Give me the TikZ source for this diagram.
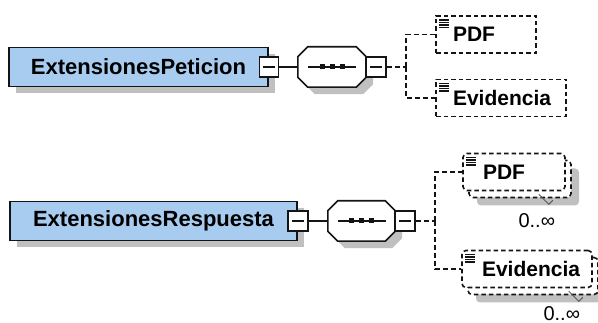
\documentclass[tikz,border=0pt]{standalone}
\usepackage{fontspec}
\setmainfont{Liberation Sans}
\usetikzlibrary{shadows,calc}
\definecolor{elblue}{RGB}{168,204,240}
\definecolor{shgray}{RGB}{192,192,192}
\definecolor{ink}{RGB}{20,20,20}
\newcommand\octpath[1]{($(#1.north west)+(10,0)$) -- ($(#1.north east)+(-10,0)$) -- ($(#1.north east)+(0,10)$) -- ($(#1.south east)+(0,-10)$) -- ($(#1.south east)+(-10,0)$) -- ($(#1.south west)+(10,0)$) -- ($(#1.south west)+(0,-10)$) -- ($(#1.north west)+(0,10)$) -- cycle}
\begin{document}
\begin{tikzpicture}[x=1pt,y=-1pt,
  sh/.style={drop shadow={shadow xshift=#1, shadow yshift=-#1, opacity=1, fill=shgray}},
  mainel/.style={draw=ink, line width=1.7pt, fill=elblue, sh=7pt, minimum height=39pt, inner sep=0pt, font=\fontsize{22}{26}\selectfont\bfseries},
  minusbox/.style={draw=ink, line width=1.6pt, fill=white, minimum width=19pt, minimum height=20pt, inner sep=0pt,
    path picture={\draw[ink, solid, line width=1.6pt] ([xshift=-6pt]path picture bounding box.center) -- ([xshift=6pt]path picture bounding box.center);}},
  seqbox/.style={minimum width=68pt, minimum height=40pt, inner sep=0pt},
  octo/.style={draw=ink, line width=1.6pt, fill=white, sh=7pt},
  child/.style={draw=ink, line width=1.6pt, dash pattern=on 4.5pt off 3pt, fill=white, minimum height=37pt, inner xsep=17pt, inner ysep=0pt, align=left, font=\fontsize{21}{25}\selectfont\bfseries,
    path picture={\foreach \k in {4,6.5,9,11.5} \draw[ink, solid, line width=1.1pt] ($(path picture bounding box.north west)+(3,\k)$) -- ++(10,0);}},
  multi/.style={child, rounded corners=4pt, inner xsep=20pt},
  backbox/.style={draw=ink, line width=1.6pt, dash pattern=on 4.5pt off 3pt, fill=white, rounded corners=4pt, minimum height=37pt, inner sep=0pt, sh=8pt},
  conn/.style={draw=ink, line width=1.6pt},
  dconn/.style={draw=ink, line width=1.6pt, dash pattern=on 5pt off 3pt},
  tick/.style={draw=ink!70, line width=1pt},
  mult/.style={inner sep=0pt, font=\fontsize{20}{24}\selectfont}
]
\useasboundingbox (0,0) rectangle (598,323);

% ---------- top: ExtensionesPeticion ----------
\node[mainel, minimum width=259pt] (main1) at (138.5,67) {ExtensionesPeticion};
\node[minusbox] (m1) at (main1.east) {};
\node[seqbox] (seq1) at (332,67) {};
\draw[conn] (m1.east) -- (seq1.west);
\draw[octo] \octpath{seq1};
\draw[conn] ($(seq1.center)+(-24,0)$) -- ($(seq1.center)+(24,0)$);
\foreach \d in {-10,0,10} \fill[ink] ($(seq1.center)+(\d-2.5,-2.5)$) rectangle ++(5,5);
\node[minusbox, minimum width=20pt] (ms1) at ($(seq1.east)+(10,0)$) {};
\coordinate (b1) at (406,67);
\node[child, text width=66pt] (pdf1) at (486,34.5) {PDF};
\node[child, text width=96pt] (evid1) at (501,98) {Evidencia};
\draw[dconn] (ms1.east) -- (b1);
\draw[dconn] (b1) |- (pdf1.west);
\draw[dconn] (b1) |- (evid1.west);

% ---------- bottom: ExtensionesRespuesta ----------
\node[mainel, minimum width=287pt] (main2) at (153.5,221) {ExtensionesRespuesta};
\node[minusbox, minimum width=20pt] (m2) at (main2.east) {};
\node[seqbox, minimum width=67pt] (seq2) at (361.5,221) {};
\draw[conn] (m2.east) -- (seq2.west);
\draw[octo] \octpath{seq2};
\draw[conn] ($(seq2.center)+(-24,0)$) -- ($(seq2.center)+(24,0)$);
\foreach \d in {-10,0,10} \fill[ink] ($(seq2.center)+(\d-2.5,-2.5)$) rectangle ++(5,5);
\node[minusbox, minimum width=20pt] (ms2) at ($(seq2.east)+(10,0)$) {};
\coordinate (b2) at (435,221);

\node[backbox, minimum width=102pt] (pdf2back) at (520,179) {};
\node[multi, text width=62pt] (pdf2) at (514,172) {PDF};
\node[backbox, minimum width=130pt] (evid2back) at (533,276) {};
\node[multi, text width=90pt] (evid2) at (527,269) {Evidencia};
\draw[dconn] (ms2.east) -- (b2);
\draw[dconn] (b2) |- (pdf2.west);
\draw[dconn] (b2) |- (evid2.west);

\draw[tick] ($(pdf2back.south east)+(-33,-4)$) -- ++(10,10) -- ++(4,-4);
\draw[tick] ($(evid2back.south east)+(-30,-4)$) -- ++(10,10) -- ++(4,-4);
\node[mult] (pdf2m) at ($(pdf2back.south east)+(-35,22)$) {0..∞};
\node[mult] (evid2m) at ($(evid2back.south east)+(-37,18)$) {0..∞};
\end{tikzpicture}
\end{document}
